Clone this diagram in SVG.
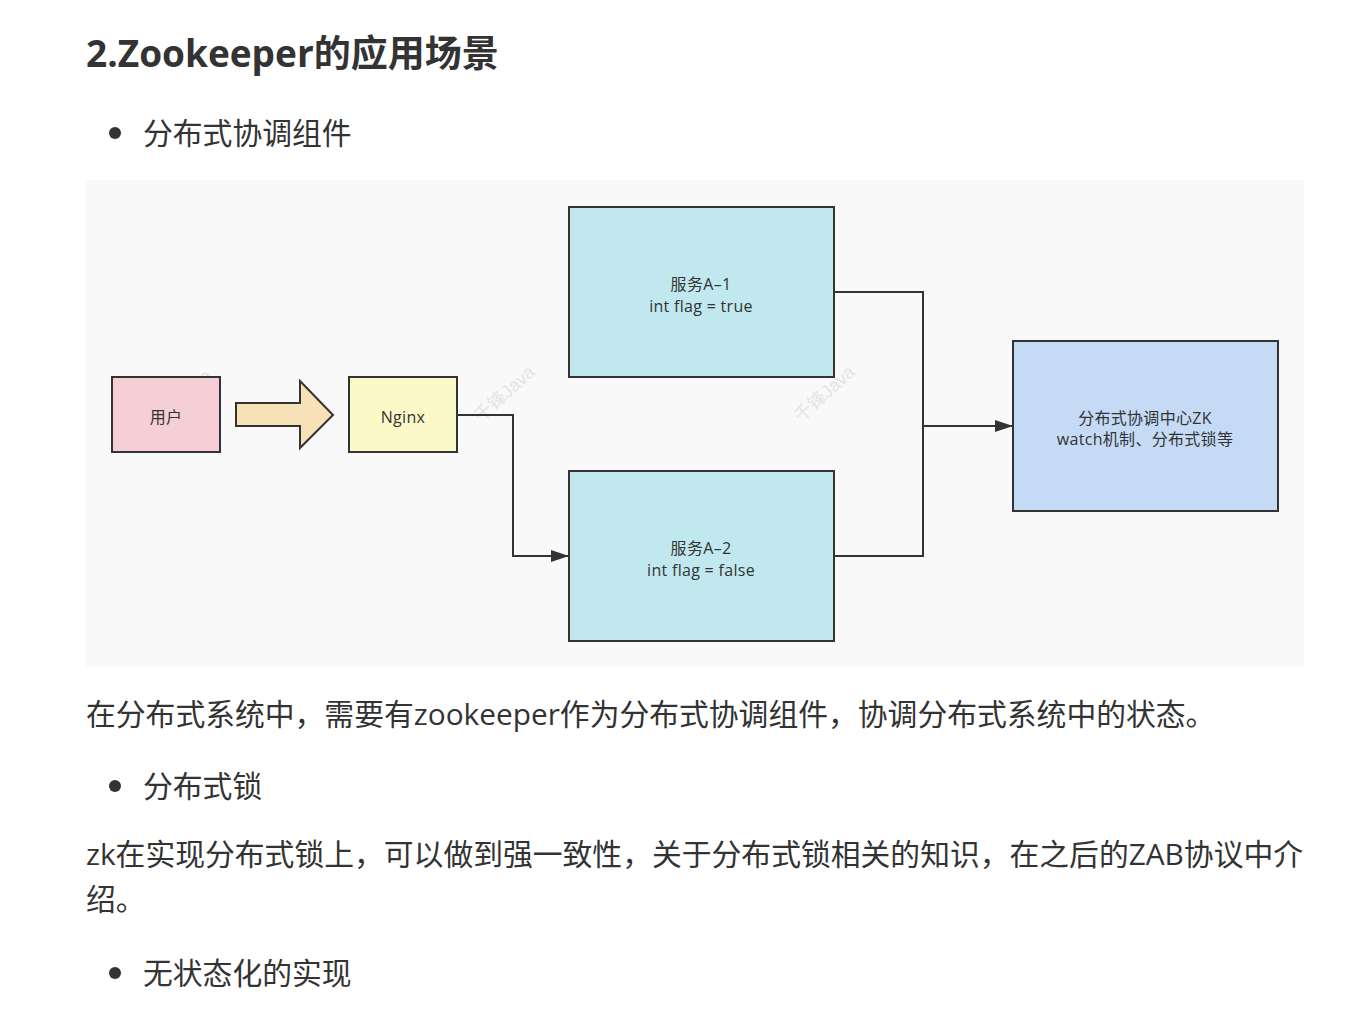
<svg xmlns="http://www.w3.org/2000/svg" width="1371" height="1017" viewBox="0 0 1371 1017">
<style>
.doc{font-family:"Open Sans","Noto Sans CJK SC",sans-serif;fill:#333;}
.h{font-size:37px;font-weight:bold;}
.p{font-size:29.8px;}
.lbl{font-family:"Open Sans","Noto Sans CJK SC",sans-serif;font-size:16px;letter-spacing:0.3px;fill:#333;text-anchor:middle;}
.box{stroke:#333;stroke-width:2;}
.wm{font-family:"Liberation Sans","Noto Sans CJK SC",sans-serif;font-size:18px;fill:#e4e4e4;}
.conn{fill:none;stroke:#333;stroke-width:2;}
</style>
<defs>
<marker id="arr2" viewBox="0 0 10 10" refX="10" refY="5" markerWidth="18" markerHeight="12" markerUnits="userSpaceOnUse" orient="auto" preserveAspectRatio="none">
<path d="M0,0 L10,5 L0,10 z" fill="#333"/>
</marker>
</defs>
<rect width="1371" height="1017" fill="#fff"/>
<g id="title"><text class="doc h" x="86" y="67">2.Zookeeper的应用场景</text></g>
<g id="bullet1"><circle cx="115" cy="133" r="6" fill="#333"/><text class="doc p" x="143" y="144">分布式协调组件</text></g>
<rect x="86" y="180" width="1218" height="487" fill="#f9f9f9"/>
<g id="watermarks">
<text class="wm" transform="translate(481,423) rotate(-42)">千锋Java</text>
<text class="wm" transform="translate(801,423) rotate(-42)">千锋Java</text>
<text class="wm" transform="translate(158,427) rotate(-42)">千锋Java</text>
</g>
<g id="connectors">
<path class="conn" d="M457,415 H513 V556 H569" marker-end="url(#arr2)"/>
<path class="conn" d="M834,292 H923 V556 H834"/>
<path class="conn" d="M923,426 H1013" marker-end="url(#arr2)"/>
</g>
<g id="user"><rect class="box" x="112" y="377" width="108" height="75" fill="#f5cfd5"/><text class="lbl" x="166" y="423">用户</text></g>
<g id="bigarrow"><path class="box" d="M236,403 H300 V381 L333,415 L300,448 V426 H236 z" fill="#f7e2b8"/></g>
<g id="nginx"><rect class="box" x="349" y="377" width="108" height="75" fill="#fcf9c8"/><text class="lbl" x="403" y="423">Nginx</text></g>
<g id="a1"><rect class="box" x="569" y="207" width="265" height="170" fill="#c1e8ef"/><text class="lbl" x="701" y="290">服务A–1</text><text class="lbl" x="701" y="312">int flag = true</text></g>
<g id="a2"><rect class="box" x="569" y="471" width="265" height="170" fill="#c1e8ef"/><text class="lbl" x="701" y="554">服务A–2</text><text class="lbl" x="701" y="576">int flag = false</text></g>
<g id="zk"><rect class="box" x="1013" y="341" width="265" height="170" fill="#c5daf5"/><text class="lbl" x="1145" y="424">分布式协调中心ZK</text><text class="lbl" x="1145" y="445">watch机制、分布式锁等</text></g>
<g id="para1"><text class="doc p" x="86" y="725">在分布式系统中，需要有zookeeper作为分布式协调组件，协调分布式系统中的状态。</text></g>
<g id="bullet2"><circle cx="115" cy="786" r="6" fill="#333"/><text class="doc p" x="143" y="797">分布式锁</text></g>
<g id="para2"><text class="doc p" x="86" y="865">zk在实现分布式锁上，可以做到强一致性，关于分布式锁相关的知识，在之后的ZAB协议中介</text><text class="doc p" x="86" y="910">绍。</text></g>
<g id="bullet3"><circle cx="115" cy="973" r="6" fill="#333"/><text class="doc p" x="143" y="984">无状态化的实现</text></g>
</svg>
